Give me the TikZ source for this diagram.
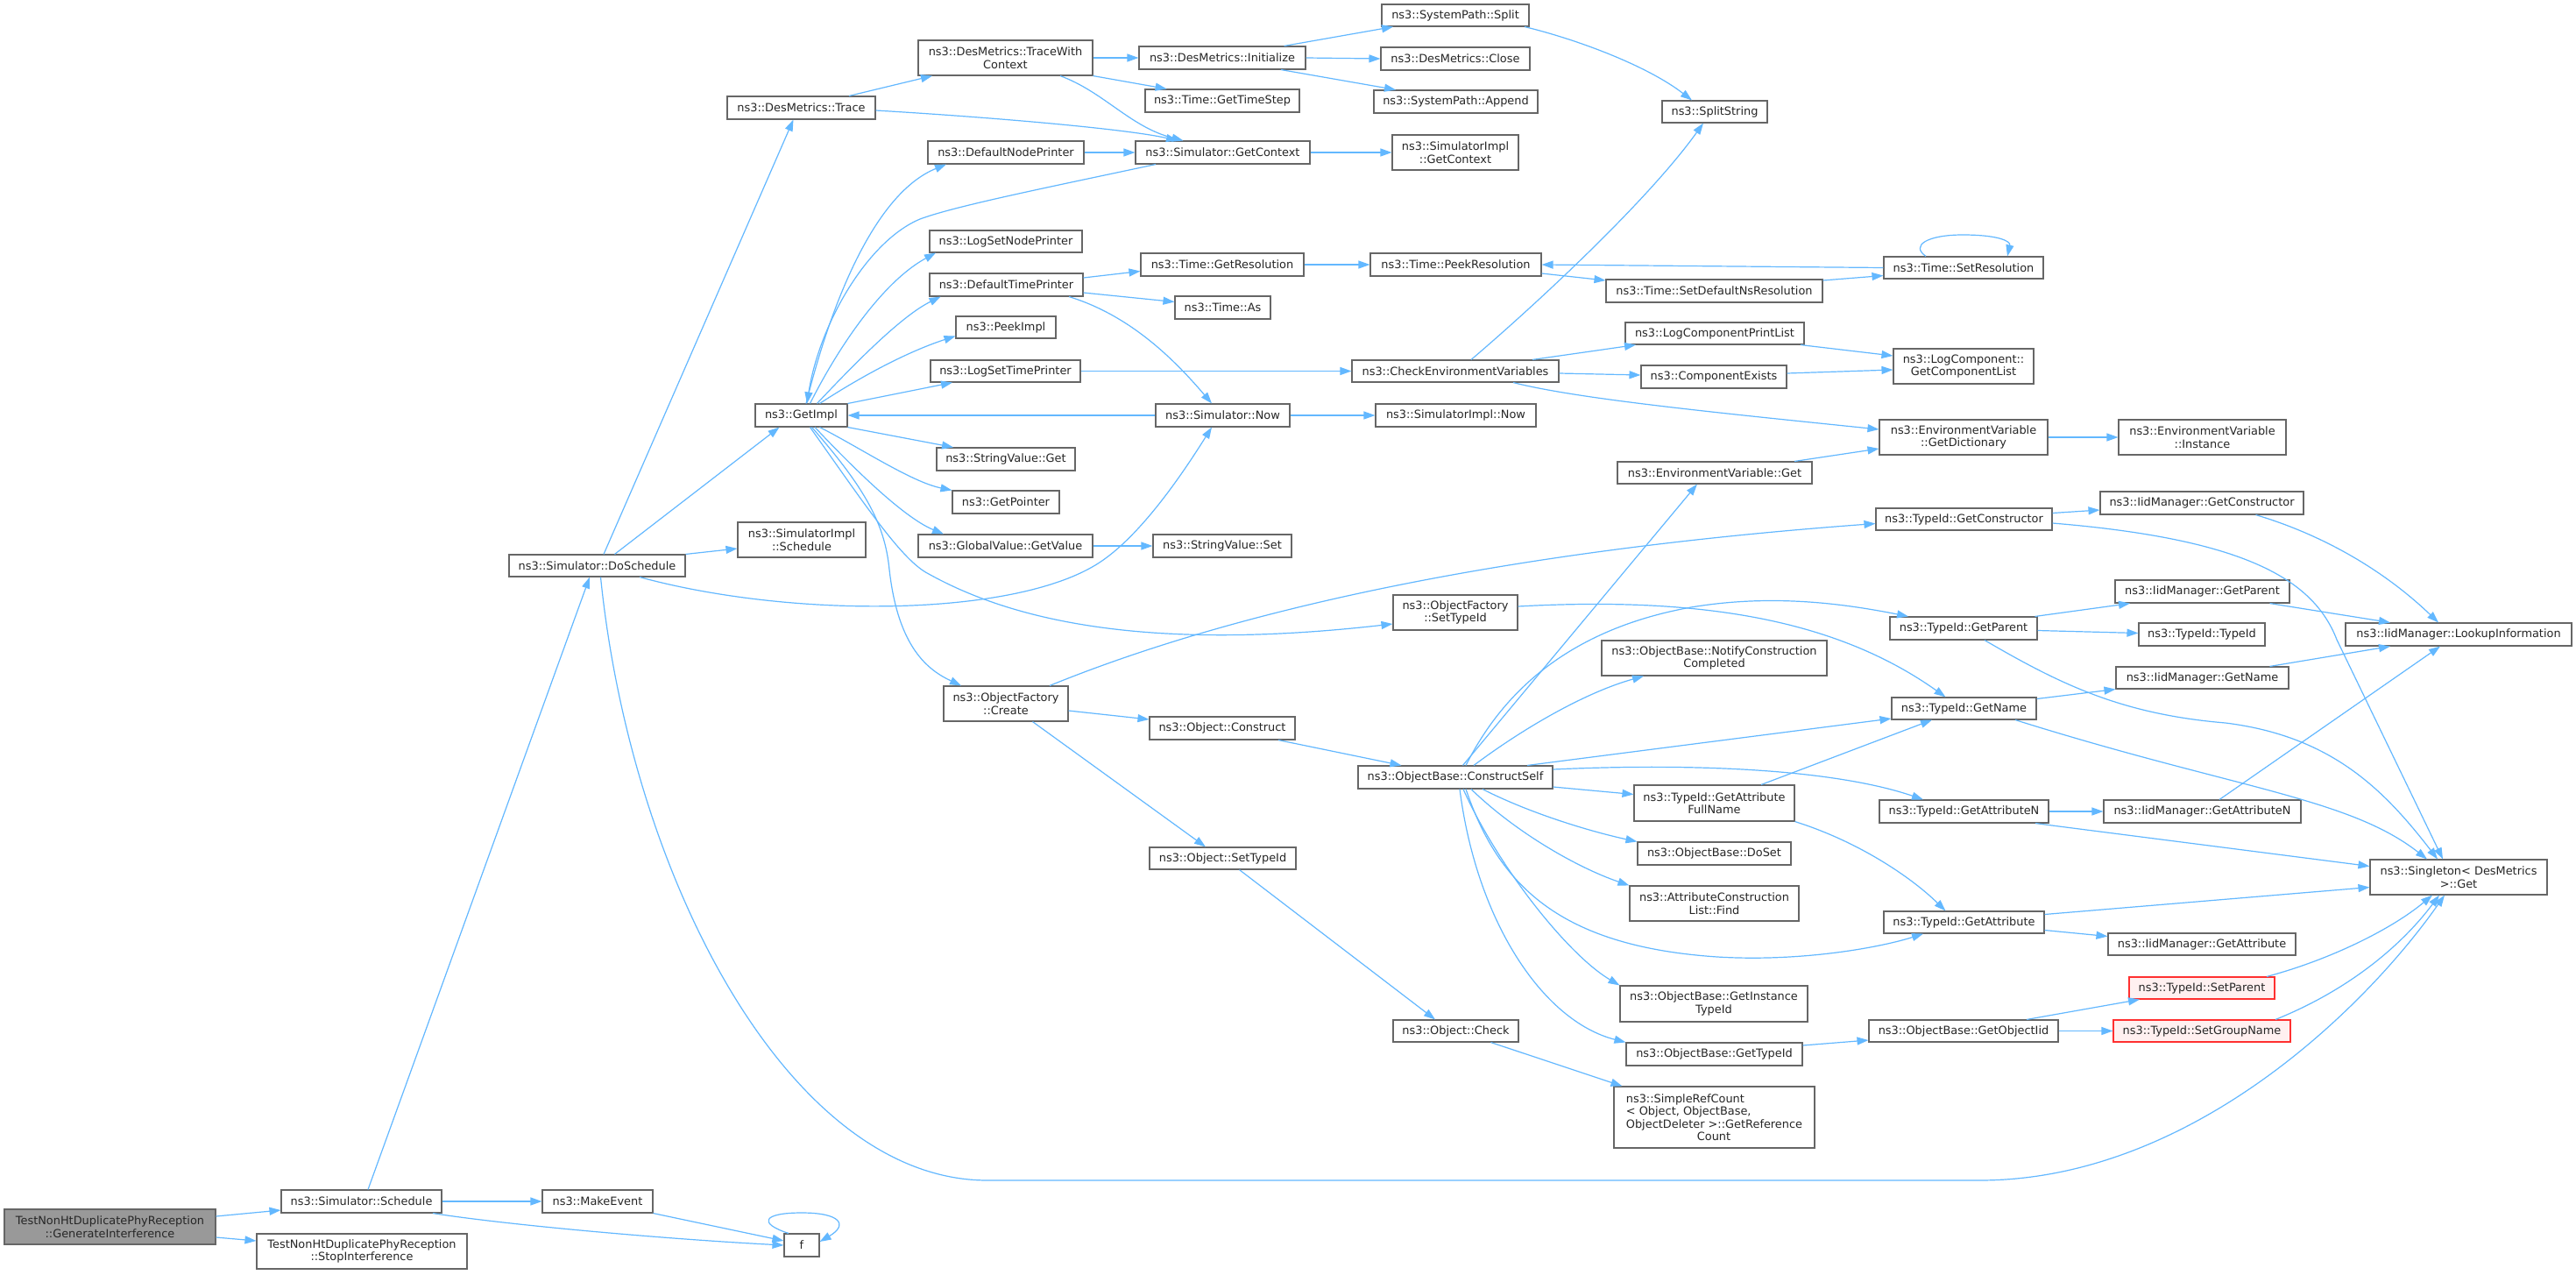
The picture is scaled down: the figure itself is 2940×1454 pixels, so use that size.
\documentclass[tikz,border=0pt]{standalone}
\usepackage{fontspec}
\setmainfont{DejaVu Sans}
\usetikzlibrary{arrows.meta}
\definecolor{edgeblue}{HTML}{63B8FF}
\definecolor{nodeborder}{HTML}{666666}
\definecolor{rootfill}{HTML}{999999}
\definecolor{redborder}{HTML}{FF3030}
\definecolor{redfill}{HTML}{FFF0F0}
\newcommand\nfont{\fontsize{12.9}{14.5}\selectfont}
\newcommand\mknode[7][]{%
  \pgfmathsetmacro\ndw{#5-#3}\pgfmathsetmacro\ndh{#6-#4}%
  \pgfmathsetmacro\ndx{(#3+#5)/2}\pgfmathsetmacro\ndy{(#4+#6)/2}%
  \node[box,#1,minimum width=\ndw pt,minimum height=\ndh pt] (#2) at (\ndx,\ndy) {#7};}
\tikzset{
  box/.style={draw=nodeborder, fill=white, line width=1.1pt, inner sep=0pt, align=center, font=\nfont, text=black!85},
  rootn/.style={fill=rootfill},
  redn/.style={draw=redborder, fill=redfill},
  cnx/.style={draw=edgeblue, line width=1.2pt, -{Triangle[length=13pt,width=9pt]}},
}
\begin{document}
\begin{tikzpicture}[x=1pt,y=-1pt]
\fill[white] (0,0) rectangle (2940,1454);
\useasboundingbox (0,0) rectangle (2940,1454);
% nodes
\mknode[rootn]{root}{5}{1380}{246}{1420}{TestNonHtDuplicatePhyReception\\::GenerateInterference}
\mknode{sched}{321}{1358}{504}{1384}{ns3::Simulator::Schedule}
\mknode{stop}{293}{1408}{533}{1448}{TestNonHtDuplicatePhyReception\\::StopInterference}
\mknode{mk}{619}{1358}{745}{1384}{ns3::MakeEvent}
\mknode{f}{895}{1408}{935}{1434}{f}
\mknode{dosch}{581}{633}{782}{658}{ns3::Simulator::DoSchedule}
\mknode{tr}{830}{110}{999}{136}{ns3::DesMetrics::Trace}
\mknode{gi}{862}{461}{967}{487}{ns3::GetImpl}
\mknode{sis}{842}{596}{988}{636}{ns3::SimulatorImpl\\::Schedule}
\mknode{twc}{1048}{46}{1247}{86}{ns3::DesMetrics::TraceWith\\Context}
\mknode{init}{1300}{53}{1490}{79}{ns3::DesMetrics::Initialize}
\mknode{split}{1577}{5}{1745}{30}{ns3::SystemPath::Split}
\mknode{close}{1576}{54}{1746}{80}{ns3::DesMetrics::Close}
\mknode{append}{1568}{103}{1755}{129}{ns3::SystemPath::Append}
\mknode{gts}{1307}{102}{1483}{128}{ns3::Time::GetTimeStep}
\mknode{ss}{1897}{115}{2017}{140}{ns3::SplitString}
\mknode{dnp}{1059}{161}{1237}{187}{ns3::DefaultNodePrinter}
\mknode{sgc}{1296}{161}{1495}{187}{ns3::Simulator::GetContext}
\mknode{sigc}{1589}{154}{1733}{194}{ns3::SimulatorImpl\\::GetContext}
\mknode{lsnp}{1061}{263}{1235}{288}{ns3::LogSetNodePrinter}
\mknode{gr}{1302}{289}{1488}{315}{ns3::Time::GetResolution}
\mknode{pr}{1564}{289}{1759}{315}{ns3::Time::PeekResolution}
\mknode{dtp}{1061}{312}{1236}{338}{ns3::DefaultTimePrinter}
\mknode{as}{1341}{338}{1450}{364}{ns3::Time::As}
\mknode{pi}{1091}{361}{1205}{386}{ns3::PeekImpl}
\mknode{lstp}{1062}{411}{1233}{436}{ns3::LogSetTimePrinter}
\mknode{cev}{1543}{411}{1779}{436}{ns3::CheckEnvironmentVariables}
\mknode{sdn}{1833}{319}{2080}{345}{ns3::Time::SetDefaultNsResolution}
\mknode{lcpl}{1855}{368}{2059}{393}{ns3::LogComponentPrintList}
\mknode{ce}{1873}{417}{2039}{443}{ns3::ComponentExists}
\mknode{sn}{1319}{461}{1472}{487}{ns3::Simulator::Now}
\mknode{sin}{1570}{461}{1753}{487}{ns3::SimulatorImpl::Now}
\mknode{svg}{1069}{511}{1227}{537}{ns3::StringValue::Get}
\mknode{gp}{1087}{560}{1209}{586}{ns3::GetPointer}
\mknode{gv}{1048}{610}{1247}{636}{ns3::GlobalValue::GetValue}
\mknode{svs}{1316}{610}{1474}{636}{ns3::StringValue::Set}
\mknode{evg}{1846}{527}{2068}{552}{ns3::EnvironmentVariable::Get}
\mknode{oft}{1590}{679}{1732}{719}{ns3::ObjectFactory\\::SetTypeId}
\mknode{ofc}{1077}{783}{1219}{823}{ns3::ObjectFactory\\::Create}
\mknode{oc}{1312}{818}{1478}{844}{ns3::Object::Construct}
\mknode{cs}{1550}{874}{1772}{900}{ns3::ObjectBase::ConstructSelf}
\mknode{ost}{1312}{967}{1479}{992}{ns3::Object::SetTypeId}
\mknode{ochk}{1590}{1164}{1733}{1189}{ns3::Object::Check}
\mknode{ncc}{1828}{731}{2085}{771}{ns3::ObjectBase::NotifyConstruction\\Completed}
\mknode{gafn}{1865}{896}{2048}{937}{ns3::TypeId::GetAttribute\\FullName}
\mknode{doset}{1869}{961}{2044}{987}{ns3::ObjectBase::DoSet}
\mknode{acl}{1860}{1011}{2053}{1051}{ns3::AttributeConstruction\\List::Find}
\mknode{git}{1849}{1125}{2063}{1166}{ns3::ObjectBase::GetInstance\\TypeId}
\mknode{ogt}{1856}{1190}{2057}{1216}{ns3::ObjectBase::GetTypeId}
\mknode[align=left]{src}{1842}{1240}{2071}{1310}{ns3::SimpleRefCount\\< Object, ObjectBase,\\ObjectDeleter >::GetReference\\\hspace*{81pt}Count}
\mknode{sr}{2150}{293}{2332}{318}{ns3::Time::SetResolution}
\mknode{lcgl}{2161}{398}{2321}{438}{ns3::LogComponent::\\GetComponentList}
\mknode{evgd}{2145}{479}{2337}{519}{ns3::EnvironmentVariable\\::GetDictionary}
\mknode{evi}{2418}{479}{2609}{519}{ns3::EnvironmentVariable\\::Instance}
\mknode{tgc}{2141}{580}{2342}{605}{ns3::TypeId::GetConstructor}
\mknode{igc}{2397}{561}{2629}{587}{ns3::IidManager::GetConstructor}
\mknode{igp}{2414}{662}{2613}{688}{ns3::IidManager::GetParent}
\mknode{tgp}{2157}{704}{2325}{730}{ns3::TypeId::GetParent}
\mknode{tti}{2441}{711}{2585}{737}{ns3::TypeId::TypeId}
\mknode{ili}{2677}{711}{2935}{737}{ns3::IidManager::LookupInformation}
\mknode{ign}{2415}{761}{2612}{786}{ns3::IidManager::GetName}
\mknode{tgn}{2159}{796}{2324}{821}{ns3::TypeId::GetName}
\mknode{tgan}{2145}{913}{2338}{939}{ns3::TypeId::GetAttributeN}
\mknode{igan}{2401}{913}{2626}{939}{ns3::IidManager::GetAttributeN}
\mknode{sg}{2705}{981}{2907}{1021}{ns3::Singleton< DesMetrics\\ >::Get}
\mknode{tga}{2150}{1040}{2333}{1065}{ns3::TypeId::GetAttribute}
\mknode{iga}{2406}{1065}{2620}{1090}{ns3::IidManager::GetAttribute}
\mknode[redn]{tsp}{2430}{1115}{2596}{1140}{ns3::TypeId::SetParent}
\mknode{goi}{2133}{1164}{2349}{1189}{ns3::ObjectBase::GetObjectIid}
\mknode[redn]{tsg}{2412}{1164}{2614}{1189}{ns3::TypeId::SetGroupName}
% edges
\draw[cnx] ([shift={(0,-12)}]root.east) -- ([shift={(0,10)}]sched.west);
\draw[cnx] ([shift={(0,12)}]root.east) -- ([shift={(0,-12)}]stop.west);
\draw[cnx] ([shift={(7.5,0)}]sched.north) -- ([shift={(-8.5,0)}]dosch.south);
\draw[cnx] (sched.east) -- (mk.west);
\draw[cnx] ([shift={(81.5,0)}]sched.south) .. controls (580,1398) and (760,1414) .. (f.west);
\draw[cnx] (mk.south east) -- ([shift={(0,-5)}]f.west);
\draw[cnx] ([shift={(-15,0)}]f.north) .. controls (865,1396) and (870,1384) .. (915,1384) .. controls (960,1384) and (968,1398) .. ([shift={(0,-4)}]f.east);
\draw[cnx] ([shift={(7.5,0)}]dosch.north) -- ([shift={(-9,0)}]tr.south);
\draw[cnx] ([shift={(20,0)}]dosch.north) -- ([shift={(-25,0)}]gi.south);
\draw[cnx] (dosch.north east) -- ([shift={(0,10)}]sis.west);
\draw[cnx] ([shift={(48.5,0)}]dosch.south) .. controls (900,705) and (1150,705) .. (1250,645) .. controls (1300,615) and (1350,540) .. ([shift={(-12.5,0)}]sn.south);
\draw[cnx] ([shift={(4,0)}]dosch.south) .. controls (720,1000) and (900,1347) .. (1127,1347) -- (2259,1347) .. controls (2500,1347) and (2700,1150) .. ([shift={(-16,0)}]sg.south);
\draw[cnx] ([shift={(54.5,0)}]tr.north) -- ([shift={(-83.5,0)}]twc.south);
\draw[cnx] ([shift={(0,3)}]tr.east) .. controls (1150,135) and (1290,148) .. ([shift={(-51.5,0)}]sgc.north);
\draw[cnx] (twc.east) -- (init.west);
\draw[cnx] (twc.south east) -- ([shift={(-63.4,0)}]gts.north);
\draw[cnx] ([shift={(62.5,0)}]twc.south) .. controls (1260,105) and (1290,145) .. ([shift={(-45,0)}]sgc.north);
\draw[cnx] ([shift={(70.6,0)}]init.north) -- ([shift={(-71,0)}]split.south);
\draw[cnx] (init.east) -- (close.west);
\draw[cnx] ([shift={(67,0)}]init.south) -- ([shift={(-68.5,0)}]append.north);
\draw[cnx] ([shift={(79,0)}]split.south) .. controls (1800,45) and (1880,75) .. ([shift={(-26,0)}]ss.north);
\draw[cnx] ([shift={(18,0)}]cev.north) .. controls (1750,350) and (1880,230) .. ([shift={(-13,0)}]ss.south);
\draw[cnx] (dnp.east) -- (sgc.west);
\draw[cnx] (sgc.east) -- (sigc.west);
\draw[cnx] ([shift={(-76.5,0)}]sgc.south) .. controls (1200,213) and (1090,235) .. (1050,250) .. controls (990,275) and (935,370) .. ([shift={(6.5,0)}]gi.north);
\draw[cnx] ([shift={(5.5,0)}]gi.north) .. controls (950,340) and (1000,220) .. ([shift={(-68,0)}]dnp.south);
\draw[cnx] ([shift={(10,0)}]gi.north) .. controls (960,390) and (1010,320) .. ([shift={(-80,0)}]lsnp.south);
\draw[cnx] ([shift={(18,0)}]gi.north) .. controls (980,410) and (1030,360) .. ([shift={(-75,0)}]dtp.south);
\draw[cnx] ([shift={(21,0)}]gi.north) .. controls (990,425) and (1040,400) .. ([shift={(0,10)}]pi.west);
\draw[cnx] (gi.north east) -- ([shift={(-60.5,0)}]lstp.south);
\draw[cnx] (sn.west) -- (gi.east);
\draw[cnx] (gi.south east) -- ([shift={(-60,0)}]svg.north);
\draw[cnx] ([shift={(21,0)}]gi.south) .. controls (980,510) and (1040,550) .. (gp.north west);
\draw[cnx] ([shift={(15.5,0)}]gi.south) .. controls (970,530) and (1030,590) .. ([shift={(-70.5,0)}]gv.north);
\draw[cnx] ([shift={(12,0)}]gi.south) .. controls (990,560) and (1010,600) .. (1015,650) .. controls (1025,740) and (1060,765) .. ([shift={(-51,0)}]ofc.north);
\draw[cnx] ([shift={(10,0)}]gi.south) .. controls (990,580) and (1030,640) .. (1060,655) .. controls (1150,705) and (1300,745) .. ([shift={(0,13)}]oft.west);
\draw[cnx] ([shift={(0,-8)}]dtp.east) -- ([shift={(0,7.5)}]gr.west);
\draw[cnx] ([shift={(0,9)}]dtp.east) -- ([shift={(0,-6.5)}]as.west);
\draw[cnx] ([shift={(71.5,0)}]dtp.south) .. controls (1290,360) and (1340,410) .. ([shift={(-12.5,0)}]sn.north);
\draw[cnx] (gr.east) -- (pr.west);
\draw[cnx] ([shift={(0,10)}]pr.east) -- ([shift={(0,-12)}]sdn.west);
\draw[cnx] (sr.west) -- (pr.east);
\draw[cnx] ([shift={(0,-12)}]sdn.east) -- ([shift={(0,9)}]sr.west);
\draw[cnx] ([shift={(-43,0)}]sr.north) .. controls (2180,280) and (2200,268) .. (2240,268) .. controls (2280,268) and (2295,275) .. ([shift={(50,0)}]sr.north);
\draw[cnx] (lstp.east) -- (cev.west);
\draw[cnx] ([shift={(88,0)}]cev.north) -- ([shift={(-90,0)}]lcpl.south);
\draw[cnx] ([shift={(0,2.5)}]cev.east) -- ([shift={(0,-2)}]ce.west);
\draw[cnx] ([shift={(66,0)}]cev.south) .. controls (1800,455) and (1950,470) .. ([shift={(0,-9)}]evgd.west);
\draw[cnx] ([shift={(98,0)}]lcpl.south) -- ([shift={(0,-12)}]lcgl.west);
\draw[cnx] ([shift={(0,-4)}]ce.east) -- ([shift={(0,4)}]lcgl.west);
\draw[cnx] (evgd.east) -- (evi.west);
\draw[cnx] ([shift={(91,0)}]evg.north) -- ([shift={(0,13)}]evgd.west);
\draw[cnx] (sn.east) -- (sin.west);
\draw[cnx] (gv.east) -- (svs.west);
\draw[cnx] ([shift={(50,0)}]ofc.north) .. controls (1400,700) and (1700,630) .. ([shift={(0,5)}]tgc.west);
\draw[cnx] ([shift={(0,8)}]ofc.east) -- ([shift={(0,-10)}]oc.west);
\draw[cnx] ([shift={(30.5,0)}]ofc.south) -- ([shift={(-19.5,0)}]ost.north);
\draw[cnx] ([shift={(0,-7)}]oft.east) .. controls (1950,680) and (2100,710) .. ([shift={(-21,0)}]tgn.north);
\draw[cnx] ([shift={(64,0)}]oc.south) -- ([shift={(-61.5,0)}]cs.north);
\draw[cnx] ([shift={(19,0)}]ost.south) -- ([shift={(-23.5,0)}]ochk.north);
\draw[cnx] ([shift={(40,0)}]ochk.south) -- ([shift={(-105,0)}]src.north);
\draw[cnx] ([shift={(8.5,0)}]cs.north) -- ([shift={(-20,0)}]evg.south);
\draw[cnx] ([shift={(12,0)}]cs.north) .. controls (1710,800) and (1780,720) .. (1930,693) .. controls (2020,678) and (2100,688) .. ([shift={(-63,0)}]tgp.north);
\draw[cnx] ([shift={(21,0)}]cs.north) .. controls (1740,830) and (1810,790) .. ([shift={(-80.5,0)}]ncc.south);
\draw[cnx] ([shift={(82,0)}]cs.north) -- ([shift={(0,11.5)}]tgn.west);
\draw[cnx] ([shift={(0,-9)}]cs.east) .. controls (1950,870) and (2100,880) .. ([shift={(-46.5,0)}]tgan.north);
\draw[cnx] ([shift={(0,11)}]cs.east) -- ([shift={(0,-10)}]gafn.west);
\draw[cnx] ([shift={(31,0)}]cs.south) .. controls (1750,930) and (1820,950) .. (doset.north west);
\draw[cnx] ([shift={(18,0)}]cs.south) .. controls (1730,950) and (1800,990) .. (acl.north west);
\draw[cnx] ([shift={(12,0)}]cs.south) .. controls (1710,1010) and (1780,1080) .. (1960,1092) .. controls (2060,1098) and (2150,1080) .. ([shift={(-46.5,0)}]tga.south);
\draw[cnx] ([shift={(9,0)}]cs.south) .. controls (1710,990) and (1790,1090) .. (git.north west);
\draw[cnx] ([shift={(5,0)}]cs.south) .. controls (1685,1050) and (1760,1165) .. (ogt.north west);
\draw[cnx] ([shift={(53.5,0)}]gafn.north) -- ([shift={(-36.5,0)}]tgn.south);
\draw[cnx] (gafn.south east) .. controls (2120,960) and (2180,1000) .. ([shift={(-21,0)}]tga.north);
\draw[cnx] ([shift={(0,-11)}]tgn.east) -- (ign.south west);
\draw[cnx] ([shift={(58.5,0)}]tgn.south) .. controls (2550,900) and (2680,910) .. ([shift={(-36,0)}]sg.north);
\draw[cnx] ([shift={(77,0)}]ign.north) -- ([shift={(-78,0)}]ili.south);
\draw[cnx] (tgan.east) -- (igan.west);
\draw[cnx] ([shift={(81.5,0)}]tgan.south) -- ([shift={(0,-12.5)}]sg.west);
\draw[cnx] ([shift={(19.5,0)}]igan.north) -- ([shift={(-21,0)}]ili.south);
\draw[cnx] ([shift={(0,-9)}]tga.east) -- ([shift={(0,11.5)}]sg.west);
\draw[cnx] ([shift={(0,9)}]tga.east) -- ([shift={(0,-9)}]iga.west);
\draw[cnx] ([shift={(0,-10)}]ogt.east) -- ([shift={(0,10.5)}]goi.west);
\draw[cnx] ([shift={(72,0)}]goi.north) -- ([shift={(-71,0)}]tsp.south);
\draw[cnx] (goi.east) -- (tsg.west);
\draw[cnx] ([shift={(74,0)}]tsp.north) .. controls (2660,1095) and (2730,1060) .. ([shift={(-30,0)}]sg.south);
\draw[cnx] ([shift={(84,0)}]tsg.north) .. controls (2680,1130) and (2740,1080) .. ([shift={(-22,0)}]sg.south);
\draw[cnx] ([shift={(0,-7)}]tgc.east) -- ([shift={(0,8)}]igc.west);
\draw[cnx] ([shift={(0,4.5)}]tgc.east) .. controls (2560,615) and (2640,660) .. (2667,730) -- ([shift={(-18,0)}]sg.north);
\draw[cnx] ([shift={(61.5,0)}]igc.south) .. controls (2650,610) and (2720,650) .. ([shift={(-23,0)}]ili.north);
\draw[cnx] ([shift={(81.5,0)}]tgp.north) -- ([shift={(-82.5,0)}]igp.south);
\draw[cnx] ([shift={(0,2.5)}]tgp.east) -- ([shift={(0,-1.5)}]tti.west);
\draw[cnx] ([shift={(24,0)}]tgp.south) .. controls (2350,780) and (2420,815) .. (2540,825) .. controls (2660,840) and (2720,900) .. ([shift={(-24,0)}]sg.north);
\draw[cnx] ([shift={(77,0)}]igp.south) -- ([shift={(-78,0)}]ili.north);
\end{tikzpicture}
\end{document}
